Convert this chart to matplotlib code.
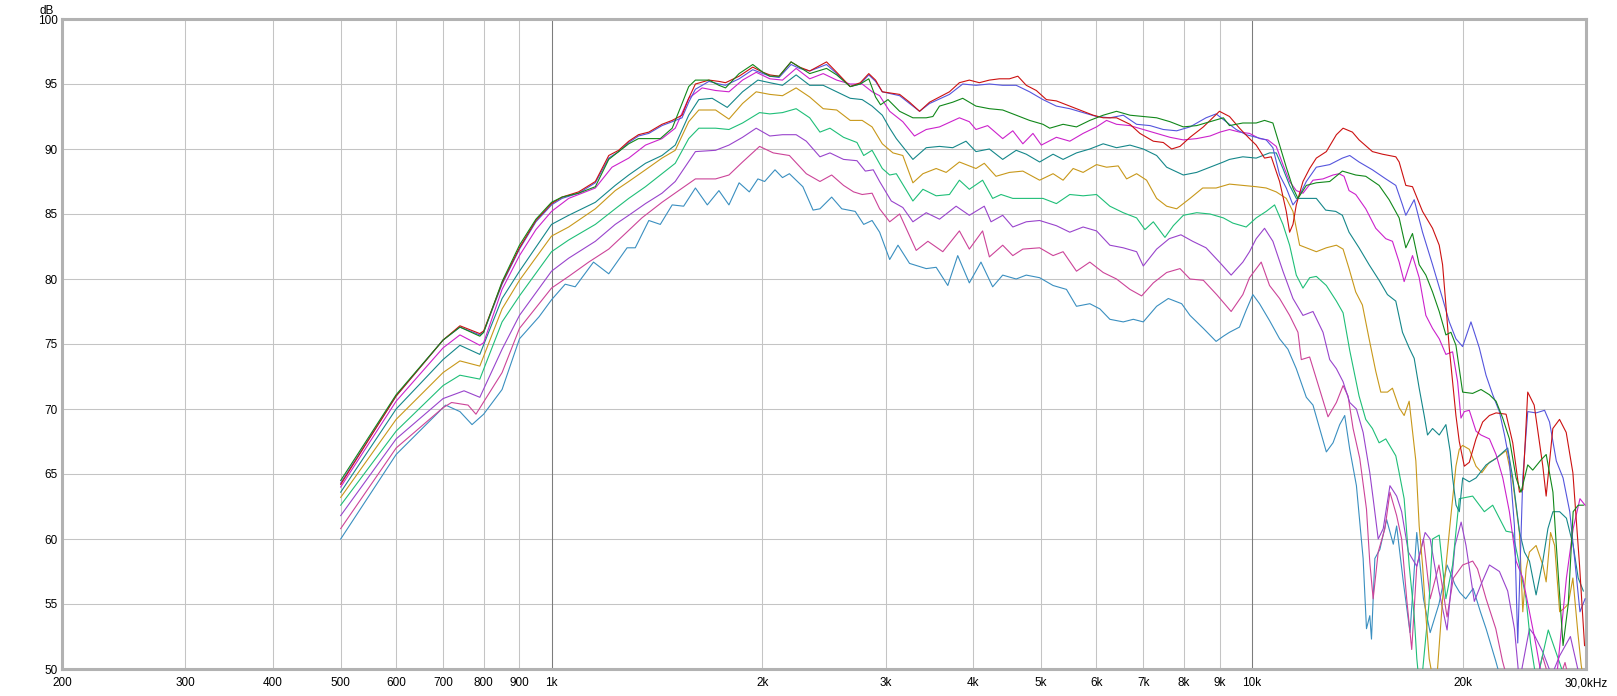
import matplotlib
matplotlib.use("Agg")
import matplotlib.pyplot as plt

plt.rcParams['font.family'] = ['Liberation Sans', 'DejaVu Sans']

# frequency (Hz), level (dB), one list per curve
red = [(500,64.2),(600,71.0),(700,75.3),(740,76.4),(790,75.8),(800,76.0),(850,79.7),(900,82.4),(950,84.5),(1000,85.8),(1035,86.3),(1093,86.7),(1155,87.5),(1207,89.5),(1247,89.9),(1289,90.6),(1331,91.1),(1377,91.3),(1438,91.9),(1487,92.2),(1536,92.6),(1570,93.9),(1605,95.0),(1678,95.3),(1734,95.2),(1772,95.1),(1853,95.6),(1938,96.3),(2004,95.9),(2050,95.7),(2113,95.6),(2198,96.7),(2260,96.3),(2337,96.0),(2470,96.7),(2554,95.9),(2670,94.8),(2760,95.1),(2838,95.8),(2902,95.3),(2967,94.4),(3141,94.2),(3245,93.6),(3354,92.9),(3466,93.6),(3581,94.0),(3700,94.4),(3823,95.1),(3950,95.3),(4082,95.1),(4219,95.3),(4360,95.4),(4507,95.4),(4633,95.6),(4763,94.9),(4923,94.5),(5089,93.8),(5259,93.7),(5496,93.3),(5742,92.9),(5935,92.6),(6134,92.4),(6409,92.4),(6698,91.9),(6921,91.2),(7233,90.6),(7474,90.5),(7682,90.0),(7896,90.2),(8160,90.9),(8526,91.7),(8715,92.2),(8989,92.9),(9291,92.5),(9602,91.6),(9923,90.8),(10144,90.3),(10426,89.3),(10658,89.4),(10955,87.5),(11198,85.2),(11322,83.6),(11447,84.2),(11573,85.7),(11830,87.5),(12093,88.5),(12361,89.3),(12775,89.8),(13204,91.1),(13497,91.6),(13917,91.3),(14226,90.7),(14865,89.8),(15363,89.6),(15704,89.5),(16052,89.4),(16230,89.0),(16590,87.2),(16958,87.1),(17527,85.2),(18114,83.9),(18516,82.6),(18721,81.1),(18927,78.0),(19137,74.7),(19348,72.1),(19561,69.5),(19777,67.5),(20107,65.6),(20440,65.9),(20895,67.7),(21359,69.0),(21834,69.5),(22319,69.7),(23066,69.6),(23579,67.4),(24102,63.6),(24368,63.8),(24770,71.3),(25300,70.3),(26029,65.6),(26316,63.3),(26900,68.5),(27500,69.2),(28109,68.2),(28733,65.1),(29368,58.0),(29858,51.8)]

blue = [(500,64.3),(600,71.0),(700,75.3),(740,76.3),(790,75.7),(800,75.9),(850,79.6),(900,82.3),(950,84.4),(1000,85.7),(1035,86.2),(1093,86.6),(1155,87.4),(1207,89.3),(1247,89.8),(1289,90.5),(1331,91.0),(1377,91.2),(1438,91.8),(1487,92.1),(1536,92.4),(1570,93.6),(1605,94.6),(1678,95.2),(1734,95.0),(1772,94.9),(1853,95.4),(1938,96.1),(2004,95.8),(2050,95.6),(2113,95.5),(2198,96.5),(2260,96.2),(2337,96.0),(2470,96.5),(2554,95.8),(2670,94.8),(2760,95.0),(2838,95.7),(2902,95.2),(2967,94.4),(3141,94.1),(3245,93.5),(3354,92.9),(3466,93.5),(3700,94.2),(3865,95.0),(4037,94.9),(4219,95.0),(4408,94.9),(4608,94.9),(4815,94.4),(5032,93.8),(5259,93.3),(5496,93.1),(5742,92.8),(6001,92.5),(6270,92.4),(6552,92.6),(6846,91.9),(7155,91.8),(7474,91.5),(7810,91.4),(8160,91.7),(8602,92.4),(8891,92.7),(9189,92.1),(9498,91.5),(9815,91.1),(10144,90.9),(10483,90.7),(10716,90.1),(10955,88.0),(11198,87.0),(11447,85.7),(11637,86.2),(11961,87.5),(12361,88.6),(12917,88.8),(13467,89.3),(13797,89.5),(14226,89.0),(14865,88.4),(15533,87.7),(16052,87.2),(16409,85.7),(16590,84.9),(17052,86.1),(17527,83.6),(18114,81.1),(18721,78.5),(19137,76.7),(19561,75.4),(19996,74.8),(20552,76.7),(21125,74.7),(21595,72.6),(22075,71.1),(22566,69.8),(22950,68.0),(23320,66.0),(23710,61.0),(23970,52.0),(24370,64.7),(24770,69.8),(25460,69.7),(26180,69.9),(26610,69.0),(27210,66.0),(27820,64.7),(28440,62.1),(28920,58.3),(29410,54.4),(29910,55.4)]

green = [(500,64.5),(600,71.1),(700,75.3),(740,76.3),(790,75.6),(800,75.9),(850,79.8),(900,82.6),(950,84.6),(1000,85.9),(1035,86.3),(1093,86.6),(1155,87.1),(1207,89.2),(1247,89.8),(1289,90.4),(1331,90.8),(1377,90.8),(1430,90.8),(1487,91.6),(1536,93.5),(1570,94.8),(1605,95.3),(1678,95.3),(1734,94.9),(1772,94.7),(1853,95.8),(1938,96.5),(2004,95.9),(2050,95.6),(2113,95.6),(2198,96.7),(2260,96.3),(2337,95.8),(2470,96.2),(2554,95.7),(2670,94.8),(2760,95.0),(2838,95.4),(2902,94.0),(2950,93.4),(3023,93.8),(3141,92.9),(3281,92.4),(3428,92.4),(3504,92.5),(3581,93.3),(3740,93.6),(3865,93.9),(4037,93.3),(4219,93.1),(4408,93.0),(4608,92.6),(4815,92.2),(5032,91.9),(5145,91.6),(5376,91.9),(5618,91.7),(5870,92.2),(6134,92.6),(6409,92.9),(6698,92.6),(6998,92.5),(7312,92.4),(7640,92.1),(7983,91.7),(8341,91.8),(8715,92.1),(9106,92.4),(9291,91.8),(9708,92.0),(10144,92.0),(10426,92.2),(10716,92.0),(10955,90.3),(11198,88.6),(11447,87.0),(11637,86.2),(11961,87.2),(12361,87.4),(12917,87.5),(13467,88.3),(14071,88.0),(14542,87.9),(15195,87.2),(15704,86.1),(16230,84.7),(16590,82.4),(16958,83.5),(17335,81.1),(17720,80.3),(18114,79.0),(18516,77.5),(18927,75.7),(19242,75.9),(19561,74.9),(19996,71.3),(20666,71.2),(21242,71.5),(21834,71.1),(22319,70.6),(22814,69.3),(23321,67.7),(23840,64.7),(24230,63.6),(24770,65.7),(25180,65.3),(25890,66.1),(26320,66.5),(26910,63.6),(27210,59.5),(27820,51.8),(28300,55.0),(28760,62.1),(29240,62.6),(29740,62.6)]

magenta = [(500,64.0),(600,70.6),(700,74.7),(740,75.7),(790,74.9),(800,75.1),(850,79.2),(900,81.8),(950,83.8),(1000,85.2),(1058,86.2),(1155,87.0),(1220,88.6),(1289,89.3),(1362,90.3),(1438,90.8),(1502,91.6),(1570,93.9),(1641,94.7),(1715,94.5),(1792,94.4),(1874,95.3),(1960,95.9),(2050,95.4),(2137,95.3),(2235,96.2),(2337,95.4),(2443,95.8),(2554,95.3),(2670,95.0),(2777,95.0),(2870,94.4),(2941,94.1),(3040,92.9),(3174,92.1),(3298,91.0),(3428,91.5),(3581,91.7),(3823,92.4),(3950,92.1),(4037,91.5),(4195,91.8),(4408,90.8),(4557,91.4),(4710,90.4),(4869,91.2),(5005,90.3),(5259,90.9),(5496,90.6),(5742,91.2),(6001,91.7),(6202,92.2),(6409,91.9),(6698,91.8),(6998,91.5),(7312,91.2),(7640,90.9),(7983,90.7),(8341,90.8),(8715,91.0),(9007,91.3),(9291,91.5),(9602,91.3),(9923,91.2),(10256,90.8),(10541,90.7),(10835,90.2),(11076,88.8),(11322,87.5),(11573,86.8),(11830,86.6),(12226,87.6),(12636,87.7),(13059,88.0),(13320,88.1),(13541,87.9),(13765,86.8),(14071,86.5),(14542,85.4),(15029,83.9),(15533,83.1),(15877,82.9),(16230,81.3),(16499,79.8),(16958,81.8),(17335,80.1),(17720,77.2),(18114,76.2),(18516,75.4),(18927,74.2),(19348,74.4),(19669,72.1),(19887,69.3),(20107,69.8),(20440,69.9),(20895,68.3),(21240,68.0),(21840,67.7),(22320,66.5),(22820,64.7),(23320,62.1),(23840,58.3),(24370,57.0),(24910,54.4),(25460,51.8),(26200,48.0),(27200,49.0),(28130,57.0),(28760,60.8),(29410,63.1),(29910,62.6)]

teal = [(500,63.6),(600,70.0),(700,73.8),(740,74.9),(790,74.2),(850,78.5),(900,80.6),(1000,84.2),(1058,84.9),(1155,85.9),(1233,87.2),(1289,88.0),(1362,88.9),(1438,89.5),(1502,90.3),(1570,92.6),(1623,93.8),(1696,93.9),(1782,93.2),(1874,94.4),(1971,95.3),(2050,95.1),(2137,94.9),(2235,95.7),(2337,94.9),(2443,94.9),(2554,94.4),(2670,93.9),(2777,93.8),(2869,93.3),(2967,92.6),(3040,91.6),(3107,90.8),(3281,89.2),(3428,90.1),(3581,90.2),(3740,90.1),(3907,90.6),(4037,89.8),(4219,90.0),(4408,89.2),(4608,89.9),(4763,89.6),(4977,89.0),(5202,89.6),(5376,89.2),(5618,89.7),(5870,90.0),(6134,90.4),(6409,90.1),(6698,90.3),(6998,90.0),(7312,89.5),(7557,88.6),(7983,88.0),(8341,88.2),(8715,88.6),(9106,89.0),(9291,89.2),(9708,89.4),(10144,89.3),(10599,89.7),(10835,89.7),(11076,88.5),(11322,87.2),(11573,86.2),(11961,86.2),(12361,86.2),(12747,85.3),(13175,85.2),(13467,84.9),(13765,83.6),(14226,82.4),(14703,81.1),(15195,79.9),(15618,78.8),(16052,78.3),(16409,75.9),(16773,74.7),(17052,73.9),(17335,71.6),(17623,69.5),(17817,68.0),(18114,68.5),(18516,68.0),(18927,68.8),(19200,66.7),(19350,64.7),(19570,62.6),(19780,62.1),(20000,64.7),(20440,64.4),(20900,64.7),(21600,65.7),(22320,66.2),(23190,67.0),(23580,64.7),(24100,60.6),(24500,59.0),(24910,58.3),(25460,55.7),(26030,58.3),(26470,60.8),(26910,62.1),(27510,62.1),(28130,61.6),(28760,59.5),(29240,57.0),(29740,56.0)]

gold = [(500,63.2),(600,69.2),(700,72.8),(740,73.7),(790,73.3),(850,77.7),(900,79.9),(1000,83.3),(1058,84.0),(1155,85.4),(1233,86.8),(1289,87.5),(1362,88.4),(1438,89.3),(1502,89.9),(1570,92.1),(1623,93.0),(1715,93.0),(1792,92.3),(1874,93.5),(1960,94.4),(2050,94.2),(2137,94.1),(2235,94.7),(2337,94.0),(2443,93.1),(2554,93.0),(2670,92.2),(2777,92.2),(2869,91.7),(2967,90.4),(3073,89.7),(3174,89.5),(3281,87.4),(3391,88.1),(3542,88.5),(3660,88.2),(3823,89.0),(4037,88.5),(4149,88.9),(4312,87.9),(4507,88.2),(4710,88.3),(4977,87.6),(5202,88.1),(5376,87.6),(5557,88.5),(5742,88.2),(6001,88.8),(6202,88.6),(6444,88.7),(6625,87.7),(6846,88.1),(7075,87.6),(7312,86.2),(7557,85.6),(7810,85.4),(8160,86.2),(8508,87.0),(8891,87.0),(9291,87.3),(9708,87.2),(10144,87.1),(10483,87.0),(10835,86.7),(11198,86.2),(11447,85.2),(11701,82.6),(11961,82.4),(12361,82.1),(12775,82.4),(13204,82.6),(13497,82.3),(13765,80.8),(14071,79.0),(14383,78.0),(14703,75.4),(15029,72.9),(15279,71.3),(15618,71.3),(15877,71.6),(16230,70.1),(16499,69.5),(16773,70.6),(16958,68.3),(17146,66.0),(17335,61.0),(17527,58.0),(17720,54.1),(17915,50.8),(18300,48.0),(18721,55.4),(18927,57.9),(19242,61.8),(19561,65.6),(19777,66.9),(19996,67.2),(20440,66.9),(20895,65.6),(21300,65.1),(21834,65.9),(22319,66.2),(23066,66.8),(23579,64.4),(24102,60.5),(24370,54.4),(24640,57.7),(24910,59.0),(25460,59.5),(26029,58.0),(26316,56.7),(26700,60.5),(27060,59.5),(27510,54.4),(27970,54.7),(28300,55.0),(28733,57.0),(29207,52.8),(29530,50.3),(30000,48.0)]

seagreen = [(500,62.6),(600,68.3),(700,71.8),(740,72.6),(790,72.3),(850,76.7),(900,78.7),(1000,82.1),(1058,83.0),(1155,84.2),(1233,85.4),(1289,86.2),(1362,87.1),(1438,88.1),(1502,88.9),(1570,90.8),(1623,91.6),(1715,91.6),(1792,91.5),(1874,92.0),(1982,92.8),(2050,92.7),(2137,92.8),(2235,93.1),(2337,92.4),(2417,91.3),(2498,91.6),(2612,90.9),(2730,90.5),(2791,89.5),(2869,89.9),(2967,88.5),(3040,88.0),(3107,88.1),(3281,86.0),(3391,86.9),(3542,86.4),(3700,86.5),(3823,87.6),(3950,86.9),(4126,87.6),(4265,86.2),(4384,86.5),(4557,86.2),(4763,86.2),(5032,86.2),(5259,85.8),(5496,86.5),(5742,86.4),(6001,86.5),(6270,85.6),(6552,85.1),(6846,84.7),(7036,83.8),(7233,84.4),(7515,83.2),(7724,84.1),(7983,84.9),(8341,85.1),(8715,85.0),(9106,84.7),(9394,84.3),(9815,84.0),(10144,84.7),(10483,85.2),(10776,85.7),(11076,84.2),(11322,82.6),(11573,80.3),(11830,79.3),(12093,80.1),(12361,80.2),(12775,79.5),(13204,78.3),(13497,77.4),(13797,74.5),(14226,71.0),(14542,69.2),(14865,68.5),(15195,67.4),(15533,67.7),(16052,66.4),(16230,65.1),(16499,63.1),(16773,58.0),(17052,54.1),(17200,50.8),(17400,48.0),(17900,55.0),(18114,60.0),(18516,60.3),(18927,55.4),(19348,58.0),(19777,63.1),(20666,63.3),(21477,62.1),(22075,62.6),(23066,60.6),(23579,60.5),(24102,58.0),(24638,55.4),(25000,52.0),(25500,49.0),(26500,53.0),(27500,50.5),(28500,48.0),(29500,47.0)]

purple = [(500,61.8),(600,67.7),(700,70.8),(750,71.4),(790,70.9),(850,74.6),(900,77.2),(1000,80.6),(1058,81.6),(1155,82.9),(1233,84.2),(1289,84.9),(1362,85.8),(1438,86.6),(1502,87.5),(1605,89.8),(1715,89.9),(1792,90.3),(1874,90.9),(1960,91.6),(2050,91.0),(2137,91.1),(2235,91.1),(2311,90.6),(2417,89.4),(2498,89.7),(2612,89.2),(2730,89.1),(2806,88.3),(2880,88.4),(2941,87.5),(3056,86.0),(3174,85.5),(3281,84.4),(3428,85.1),(3581,84.6),(3782,85.6),(3950,84.9),(4149,85.6),(4242,84.4),(4408,84.9),(4557,84.0),(4763,84.4),(4977,84.5),(5259,84.1),(5496,83.6),(5742,84.0),(6001,83.7),(6270,82.6),(6552,82.4),(6846,82.1),(6998,81.0),(7312,82.3),(7620,83.1),(7920,83.4),(8232,82.9),(8602,82.4),(8989,81.3),(9342,80.3),(9708,81.3),(9923,82.1),(10144,83.1),(10426,83.9),(10716,82.9),(11076,80.6),(11447,78.5),(11830,77.2),(12226,77.5),(12636,75.9),(12917,73.8),(13204,73.1),(13497,72.1),(13797,70.5),(14103,70.0),(14417,68.2),(14737,65.1),(14901,63.1),(15150,60.0),(15403,60.8),(15746,64.1),(16097,63.3),(16364,62.1),(16729,59.0),(17197,57.9),(17678,60.5),(17973,60.0),(18500,56.0),(19000,53.0),(19500,59.5),(19900,61.3),(20220,59.5),(20780,55.2),(21240,56.5),(21840,58.0),(22570,57.5),(23190,56.0),(23710,53.1),(24100,49.0),(24910,53.1),(25320,52.6),(26030,51.3),(26800,49.5),(27500,51.0),(28500,52.5),(29200,50.0),(29800,48.0)]

pink = [(500,60.8),(600,67.0),(700,70.1),(720,70.5),(760,70.3),(780,69.6),(850,72.8),(900,76.2),(1000,79.3),(1058,80.2),(1130,81.3),(1207,82.3),(1275,83.5),(1346,84.7),(1438,85.9),(1519,86.8),(1605,87.7),(1715,87.7),(1792,88.0),(1874,89.0),(1982,90.2),(2073,89.7),(2186,89.5),(2311,88.1),(2417,87.5),(2512,88.0),(2612,87.2),(2700,86.7),(2777,86.5),(2869,86.6),(2941,85.4),(3040,84.4),(3141,85.0),(3317,82.2),(3447,82.9),(3620,82.1),(3823,83.7),(3950,82.3),(4126,83.7),(4219,81.7),(4408,82.6),(4557,81.8),(4710,82.3),(4977,82.4),(5202,81.8),(5376,82.1),(5618,80.6),(5870,81.3),(6134,80.5),(6409,80.0),(6698,79.2),(6960,78.7),(7233,79.7),(7557,80.5),(7896,80.8),(8160,80.0),(8526,79.9),(8908,78.8),(9342,77.5),(9708,78.8),(9923,80.1),(10312,81.3),(10599,79.5),(10955,78.5),(11322,77.2),(11637,75.9),(11766,73.8),(12093,74.0),(12497,71.5),(12846,69.4),(13204,70.5),(13497,71.8),(13720,71.0),(13949,68.5),(14259,66.2),(14577,62.3),(14737,58.2),(14901,55.4),(15150,59.0),(15488,60.8),(15746,63.6),(16097,61.8),(16364,60.0),(16637,55.4),(16915,51.5),(17197,57.9),(17580,60.0),(17973,55.4),(18500,58.0),(19000,54.0),(19400,57.0),(20000,58.0),(20670,58.3),(21000,57.7),(21600,55.4),(22300,53.1),(22800,50.6),(23500,48.0),(25000,47.0),(26000,51.0),(27000,48.0),(28000,50.5),(29000,47.0)]

steelblue = [(500,60.0),(600,66.5),(706,70.3),(740,69.8),(770,68.8),(800,69.6),(850,71.5),(900,75.4),(960,77.1),(1000,78.4),(1046,79.6),(1081,79.4),(1148,81.3),(1207,80.4),(1282,82.4),(1317,82.4),(1377,84.5),(1430,84.2),(1487,85.7),(1544,85.6),(1605,87.0),(1669,85.7),(1734,86.8),(1792,85.7),(1853,87.4),(1916,86.7),(1971,87.7),(2015,87.5),(2085,88.4),(2137,87.8),(2186,88.1),(2285,87.1),(2363,85.3),(2417,85.4),(2512,86.3),(2597,85.4),(2714,85.2),(2791,84.2),(2869,84.5),(2941,83.6),(3040,81.5),(3124,82.6),(3245,81.2),(3428,80.8),(3542,80.9),(3680,79.5),(3802,81.8),(3950,79.7),(4104,81.3),(4265,79.4),(4408,80.3),(4608,80.0),(4763,80.3),(4977,80.1),(5202,79.5),(5436,79.2),(5618,77.9),(5870,78.1),(6067,77.7),(6270,76.9),(6552,76.7),(6772,76.9),(6998,76.7),(7312,77.9),(7598,78.5),(7939,78.1),(8160,77.2),(8526,76.2),(8891,75.2),(9106,75.6),(9291,75.9),(9601,76.3),(9815,77.6),(10033,78.8),(10256,78.1),(10599,76.8),(10955,75.4),(11259,74.6),(11573,73.1),(11961,70.9),(12226,70.3),(12497,68.5),(12775,66.7),(13059,67.4),(13349,68.8),(13571,69.5),(13797,66.9),(14103,64.1),(14417,58.5),(14577,53.1),(14737,54.1),(14819,52.3),(14984,58.5),(15234,59.2),(15574,61.5),(15920,59.6),(16097,61.0),(16454,56.7),(16821,52.8),(17197,60.5),(17580,55.4),(17973,52.8),(18500,55.0),(19000,58.0),(19500,56.5),(19800,55.9),(20200,55.4),(20700,56.2),(21200,54.4),(21600,53.1),(22300,50.6),(23000,48.0),(24000,46.0)]

x_ticks = [200, 300, 400, 500, 600, 700, 800, 900, 1000, 2000, 3000, 4000, 5000,
           6000, 7000, 8000, 9000, 10000, 20000, 30000]
x_labels = ["200", "300", "400", "500", "600", "700", "800", "900", "1k", "2k", "3k",
            "4k", "5k", "6k", "7k", "8k", "9k", "10k", "20k", "30,0kHz"]
y_ticks = [50, 55, 60, 65, 70, 75, 80, 85, 90, 95, 100]

curves = [
    (steelblue, "#3a8fc0"),
    (pink, "#cc4499"),
    (purple, "#9944cc"),
    (seagreen, "#1fbf78"),
    (gold, "#c8981a"),
    (teal, "#15878a"),
    (magenta, "#cc22cc"),
    (blue, "#5555dd"),
    (red, "#cc1111"),
    (green, "#11881a"),
]

fig = plt.figure(figsize=(16.17, 6.96), dpi=100)
ax = fig.add_axes([62 / 1617, 1 - 669 / 696, (1586 - 62) / 1617, (669 - 19) / 696])
ax.set_xscale("log")

for data, col in curves:
    f = [p[0] for p in data]
    db = [p[1] for p in data]
    ax.plot(f, db, color=col, lw=0.8, zorder=3)

ax.set_xlim(200, 30000)
ax.set_ylim(50, 100)
ax.minorticks_off()
ax.set_xticks(x_ticks)
ax.set_xticklabels(x_labels)
ax.set_yticks(y_ticks)
ax.set_yticklabels([str(v) for v in y_ticks])
ax.grid(True, color="#c4c4c4", lw=0.75, zorder=1)
for f0 in (1000, 10000):
    ax.axvline(f0, color="#7c7c7c", lw=0.75, zorder=2)

ax.tick_params(length=0, labelsize=8.5, colors="#000000")
ax.tick_params(axis="x", pad=6)
ax.tick_params(axis="y", pad=3)
for s in ax.spines.values():
    s.set_color("#b2b2b2")
    s.set_linewidth(2.2)

fig.text(47 / 1617, 1 - 11 / 696, "dB", ha="center", va="center", fontsize=8.5)

fig.savefig("out.png", dpi=100, facecolor="white")
